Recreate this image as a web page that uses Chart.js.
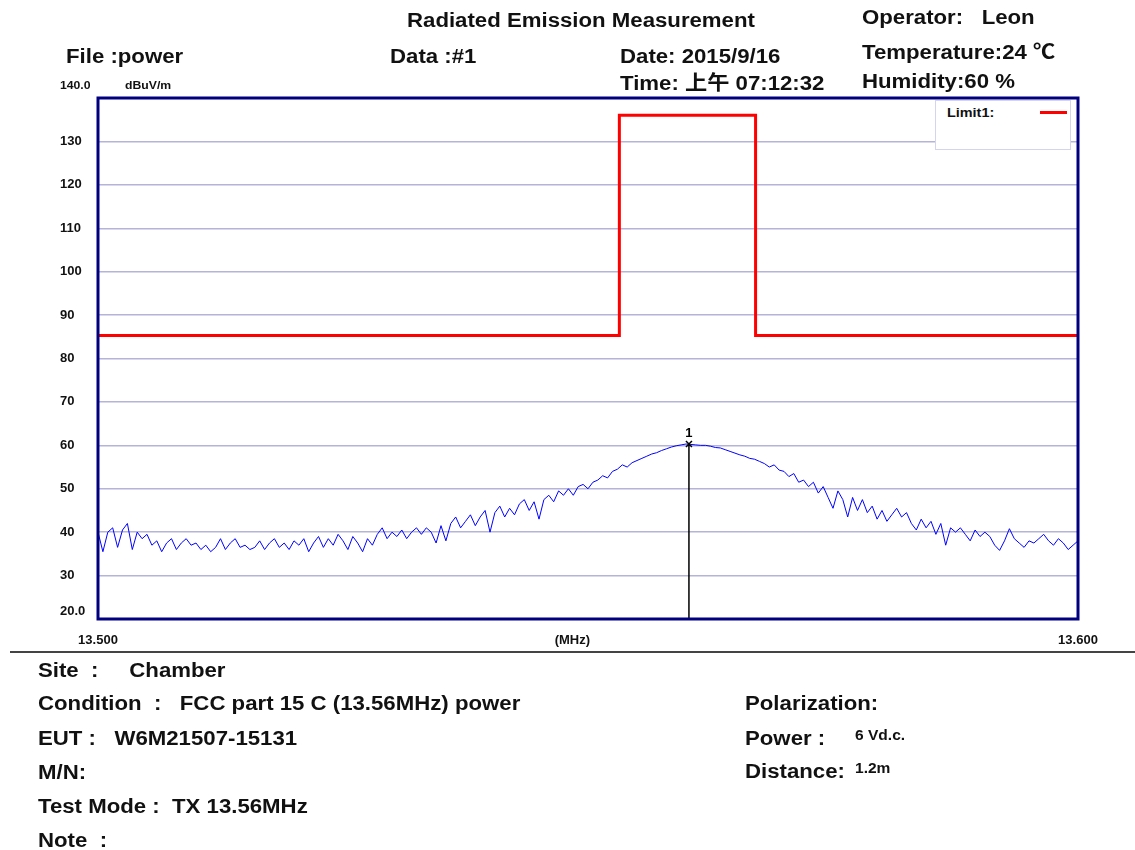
<!DOCTYPE html>
<html>
<head>
<meta charset="utf-8">
<script src="https://cdn.jsdelivr.net/npm/chart.js@4.4.1/dist/chart.umd.min.js"></script>
<style>
  body { margin: 0; background: #fff; }
  #page { position: relative; width: 1135px; height: 850px; overflow: hidden;
          font-family: 'Liberation Sans', Arial, 'Noto Sans CJK SC', sans-serif; font-weight: bold; color: #111; }
  #emi { position: absolute; left: 0; top: 0; }
  .t { position: absolute; white-space: pre; transform-origin: 0 50%; transform: translateY(-50%) scaleX(1.11);
       line-height: 1; font-size: 20px; }
  .s { font-size: 14px; }
  .tiny { font-size: 11px; }
  #rule { position: absolute; left: 10px; top: 651px; width: 1125px; height: 2px; background: #444; }
  #legend { position: absolute; left: 935px; top: 100px; width: 136px; height: 50px; background: #fff;
            border: 1.5px solid #d4d4ea; box-sizing: border-box; }
  #legend .lbl { position: absolute; left: 11px; top: 5px; font-size: 12px; transform: scaleX(1.2); transform-origin: 0 0; }
  #legend .sw { position: absolute; left: 104px; top: 10px; width: 27px; height: 3px; background: #ff0000; }
</style>
</head>
<body>
<div id="page">
  <canvas id="emi" width="1135" height="850"></canvas>

  <div class="t" style="left:407px; top:20px;">Radiated Emission Measurement</div>
  <div class="t" style="left:862px; top:17px;">Operator:   Leon</div>
  <div class="t" style="left:66px; top:56px;">File :power</div>
  <div class="t" style="left:390px; top:56px;">Data :#1</div>
  <div class="t" style="left:620px; top:56px;">Date: 2015/9/16</div>
  <div class="t" style="left:862px; top:52px;">Temperature:24 ℃</div>
  <div class="t" style="left:620px; top:83px;">Time: 上午 07:12:32</div>
  <div class="t" style="left:862px; top:81px;">Humidity:60 %</div>
  <div class="t tiny" style="left:60px; top:85px;">140.0</div>
  <div class="t tiny" style="left:125px; top:85px;">dBuV/m</div>

  <div id="legend"><div class="lbl">Limit1:</div><div class="sw"></div></div>

  <div id="rule"></div>
  <div class="t" style="left:38px; top:670px;">Site  :     Chamber</div>
  <div class="t" style="left:38px; top:703px;">Condition  :   FCC part 15 C (13.56MHz) power</div>
  <div class="t" style="left:38px; top:738px;">EUT :   W6M21507-15131</div>
  <div class="t" style="left:38px; top:772px;">M/N:</div>
  <div class="t" style="left:38px; top:806px;">Test Mode :  TX 13.56MHz</div>
  <div class="t" style="left:38px; top:840px;">Note  :</div>
  <div class="t" style="left:745px; top:703px;">Polarization:</div>
  <div class="t" style="left:745px; top:738px;">Power :</div>
  <div class="t s" style="left:855px; top:735px;">6 Vd.c.</div>
  <div class="t" style="left:745px; top:771px;">Distance:</div>
  <div class="t s" style="left:855px; top:768px;">1.2m</div>
</div>

<script>
// sweep: 13.500 - 13.600 MHz, 201 points
const sweepStart = 13.5;
const sweepStep = 0.0005;

const traceLevels = [
  40, 35.5, 40, 41, 36.5, 40.5, 42, 36, 40, 38.5,
  39.5, 37, 38, 35.5, 37.5, 38.5, 36, 37.5, 38.5, 37,
  37.5, 36, 37, 35.5, 36.5, 38.5, 36, 37.5, 38.5, 36.5,
  37, 36, 36.5, 38, 36, 37.5, 38.5, 36.5, 37.5, 36,
  38, 37, 38.5, 35.5, 37.5, 39, 36.5, 38.5, 37, 39.5,
  38, 36, 39, 37.5, 35.5, 38.5, 37, 39.5, 41, 38.5,
  40, 39, 40.5, 38.5, 40, 41, 39.5, 41, 40, 37.5,
  41.5, 38, 42, 43.5, 41, 42.5, 44, 41.5, 43.5, 45,
  40, 44.5, 46, 43.5, 45.5, 44, 46.5, 47.5, 45, 47,
  43, 47.5, 48.5, 47, 49.5, 48.5, 50, 48.5, 50.5, 51,
  50, 51.5, 52, 53, 52.5, 54, 54.5, 55.5, 55, 56,
  56.5, 57, 57.5, 58, 58.3, 58.8, 59.2, 59.6, 59.9, 60.1,
  60.3, 60.2, 60.1, 60, 60, 59.8, 59.5, 59.4, 59, 58.6,
  58.2, 57.8, 57.5, 57, 56.8, 56.3, 55.8, 55, 55.5, 54.3,
  54, 52.8, 53.5, 51.5, 52, 50.5, 51.5, 49, 50.5, 48,
  45.5, 49.5, 47.5, 43.5, 48, 45, 47.5, 44.5, 46, 43,
  45, 42.5, 44, 45.5, 43.5, 44.5, 42, 40.5, 43, 41,
  42.5, 39.5, 42, 37, 41, 40, 41, 39.5, 38, 40.5,
  39, 40, 39, 37, 35.8, 38, 40.8, 38.5, 37.5, 36.5,
  38, 37.5, 38.5, 39.5, 38, 37, 38.5, 37.5, 36, 37,
  38
];

// Limit1 (stepped)
const limitFreqs = [13.5, 13.5532, 13.5532, 13.5671, 13.5671, 13.6];
const limitLevels = [85.3, 85.3, 136, 136, 85.3, 85.3];

// marker 1
const markerFreq = 13.5603;
const markerLevel = 60.3;

const yTicks = [20, 30, 40, 50, 60, 70, 80, 90, 100, 110, 120, 130, 140];
const xTicks = [13.5, 13.5484, 13.6];
const xTickLabels = ['13.500', '(MHz)', '13.600'];

const tracePoints = traceLevels.map((v, i) => ({ x: sweepStart + i * sweepStep, y: v }));
const limitPoints = limitFreqs.map((f, i) => ({ x: f, y: limitLevels[i] }));

const frameAndMarker = {
  id: 'frameAndMarker',
  afterDatasetsDraw(chart) {
    const { ctx, chartArea, scales } = chart;
    const mx = scales.x.getPixelForValue(markerFreq);
    const my = scales.y.getPixelForValue(markerLevel);
    ctx.save();
    ctx.strokeStyle = '#000';
    ctx.lineWidth = 1.5;
    ctx.beginPath();
    ctx.moveTo(mx, my);
    ctx.lineTo(mx, chartArea.bottom);
    ctx.moveTo(mx - 3, my - 3); ctx.lineTo(mx + 3, my + 3);
    ctx.moveTo(mx + 3, my - 3); ctx.lineTo(mx - 3, my + 3);
    ctx.stroke();
    ctx.fillStyle = '#000';
    ctx.font = 'bold 13px "Liberation Sans", Arial, sans-serif';
    ctx.textAlign = 'center';
    ctx.textBaseline = 'bottom';
    ctx.fillText('1', mx, my - 4);
    ctx.strokeStyle = '#000080';
    ctx.lineWidth = 3;
    ctx.strokeRect(chartArea.left, chartArea.top, chartArea.right - chartArea.left, chartArea.bottom - chartArea.top);
    ctx.restore();
  }
};

new Chart(document.getElementById('emi').getContext('2d'), {
  type: 'line',
  data: {
    datasets: [
      {
        label: 'Limit1:',
        data: limitPoints,
        borderColor: '#ff0000',
        borderWidth: 3,
        pointRadius: 0,
        fill: false,
        tension: 0
      },
      {
        label: 'Trace',
        data: tracePoints,
        borderColor: '#0000ff',
        borderWidth: 1,
        pointRadius: 0,
        fill: false,
        tension: 0
      }
    ]
  },
  options: {
    responsive: false,
    animation: false,
    layout: { padding: { left: 60, top: 98, right: 57, bottom: 201 } },
    plugins: { legend: { display: false }, tooltip: { enabled: false } },
    scales: {
      x: {
        type: 'linear',
        min: 13.5,
        max: 13.6,
        afterBuildTicks: (scale) => { scale.ticks = xTicks.map(v => ({ value: v })); },
        afterFit: (scale) => { scale.height = 30; },
        grid: { display: false },
        border: { display: false },
        ticks: {
          autoSkip: false,
          maxRotation: 0,
          padding: 6,
          color: '#111',
          font: { family: 'Liberation Sans', size: 13, weight: 'bold' },
          callback: (v, i) => xTickLabels[i]
        }
      },
      y: {
        min: 20,
        max: 140,
        afterBuildTicks: (scale) => { scale.ticks = yTicks.map(v => ({ value: v })); },
        afterFit: (scale) => { scale.width = 38; },
        grid: { color: '#b4b4d8', lineWidth: 1.5, drawTicks: false },
        border: { display: false },
        ticks: {
          crossAlign: 'far',
          padding: 4,
          color: '#111',
          font: { family: 'Liberation Sans', size: 13, weight: 'bold' },
          callback: (v) => v === 140 ? '' : (v === 20 ? ['20.0', ''] : String(v))
        }
      }
    }
  },
  plugins: [frameAndMarker]
});
</script>
</body>
</html>
